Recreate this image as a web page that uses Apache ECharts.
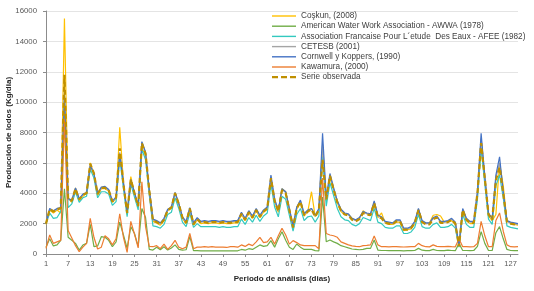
<!DOCTYPE html>
<html>
<head>
<meta charset="utf-8">
<script src="https://cdn.jsdelivr.net/npm/echarts/dist/echarts.min.js"></script>
<style>
html, body { margin: 0; padding: 0; background: #fff; }
#box1 { width: 534px; height: 291px; }
</style>
</head>
<body>
<div id="box1"></div>
<script>
var days = [];
for (var d = 1; d <= 129; d++) days.push(String(d));

var coskun = [1950,2900,2700,2900,2700,15500,3700,3400,4350,3500,
3800,4000,6000,5300,3850,4300,4300,4150,3400,3650,
8350,4700,2600,5100,4000,3100,7000,6500,4200,2150,
2050,1900,2200,2850,3000,4050,3300,2350,2000,3000,
1900,2250,2000,2050,2000,2050,2050,2000,2050,2000,
2000,2050,2050,2600,2200,2700,2350,2850,2400,2750,
2950,4900,3450,2750,4300,4100,2850,1700,2950,3400,
2500,2800,4100,2450,2850,6500,3500,5000,4200,3350,
2800,2600,2600,2350,2200,2350,2850,2650,2550,3300,
2400,2700,2050,1950,1950,2100,2100,1550,1600,1650,
2000,2850,2100,2000,2050,2550,2600,2500,2100,2150,
2200,1950,550,2800,2200,2000,2000,3800,7000,4900,
2500,2200,2600,6000,4500,2200,2000,1950,1900];

var awwa = [450,1000,530,600,900,4300,1100,900,700,260,
590,700,1950,480,530,1140,1100,900,480,790,
2100,1250,370,1800,1350,500,3000,2400,300,260,
440,280,480,260,400,600,300,260,280,1150,
220,220,200,200,210,200,200,210,200,200,
200,200,210,300,250,350,300,450,600,500,
550,880,450,1000,1470,900,450,300,660,450,
300,300,300,220,200,3750,810,920,800,700,
550,480,400,330,310,280,300,370,370,920,
260,230,230,220,220,230,220,210,220,220,
230,370,250,220,220,300,230,220,220,260,
230,220,700,230,230,220,230,500,1470,700,
230,230,1400,1800,1000,300,230,220,220];

var afee = [2000,2700,2350,2400,2800,9600,3050,3300,4100,3400,
3700,3800,5600,5000,3700,4100,4100,3950,3200,3450,
6300,4300,2450,4600,3750,2900,6900,6200,3900,1850,
1800,1700,1950,2600,2750,3700,3000,2100,1800,2700,
1750,2000,1800,1800,1800,1800,1800,1750,1800,1750,
1750,1800,1800,2300,1950,2400,2100,2550,2150,2500,
2700,4600,3100,2450,3800,3600,2550,1500,2600,3000,
2200,2450,2500,2100,2500,6400,3150,4700,3850,3000,
2450,2250,2200,1950,1850,2000,2400,2300,2200,3000,
2100,2000,1750,1700,1700,1850,1850,1350,1350,1450,
1750,2600,1800,1700,1700,1950,2050,1750,1750,1800,
1950,1700,450,2600,1950,1750,1750,3600,7000,4600,
2300,1950,4500,5200,3700,1850,1750,1700,1650];

var cetesb = [2000,2950,2800,2950,3000,10800,3600,3500,4300,3600,
3900,4000,5900,5300,3950,4350,4400,4200,3450,3700,
6700,4650,2700,4900,4000,3150,7350,6650,4200,2250,
2150,2000,2300,2900,3050,4000,3300,2400,2100,3000,
2000,2350,2100,2150,2100,2150,2150,2100,2150,2100,
2100,2150,2150,2700,2300,2800,2450,2950,2500,2850,
3050,5100,3550,2850,4250,4050,2950,1800,3050,3500,
2600,2850,3000,2500,2950,7200,3650,5200,4300,3450,
2900,2650,2600,2300,2200,2350,2750,2650,2600,3400,
2500,2400,2100,2050,2000,2200,2200,1650,1650,1750,
2100,2950,2150,2000,2000,2350,2450,2100,2100,2150,
2300,2050,550,2950,2300,2100,2100,4050,7600,5050,
2650,2300,5000,6000,4050,2150,2050,2000,1950];

var cornwell = [2000,3000,2850,3000,3050,10400,3650,3550,4350,3650,
3950,4050,5800,5300,4000,4400,4450,4250,3500,3750,
6600,4700,2750,4900,4050,3200,7400,6700,4250,2300,
2200,2050,2350,2950,3100,4050,3350,2450,2150,3050,
2050,2400,2150,2200,2150,2200,2200,2150,2200,2150,
2150,2200,2200,2750,2350,2850,2500,3000,2550,2900,
3100,5200,3600,2900,4300,4100,3000,1850,3100,3550,
2650,2900,3000,2550,3000,7950,3700,5300,4350,3500,
2950,2700,2650,2350,2250,2400,2800,2700,2650,3500,
2550,2450,2150,2100,2050,2250,2250,1700,1700,1800,
2150,3000,2200,2050,2050,2400,2500,2150,2150,2200,
2350,2100,600,3000,2350,2150,2150,4100,7950,5100,
2700,2350,5200,6400,4100,2200,2100,2050,2000];

var kawamura = [370,1250,700,800,900,8900,1550,1050,550,150,
450,700,2350,1100,330,450,1200,1000,600,1000,
2650,1100,100,2150,1300,400,4750,1800,500,480,
550,350,650,300,550,900,450,350,450,1350,
350,450,450,480,450,480,450,450,450,430,
480,480,450,600,500,650,550,800,1100,750,
800,1100,650,1200,1700,1250,650,880,750,600,
550,550,550,550,350,5000,1350,1250,1200,1100,
800,700,600,530,500,480,550,570,600,1180,
600,480,480,470,480,480,470,460,470,480,
480,700,550,480,470,600,500,480,480,500,
480,470,1000,480,480,470,480,700,2150,1200,
480,480,2200,2700,1500,600,480,470,480];

var observada = [2000,2950,2800,2950,3000,11800,3600,3500,4300,3600,
3900,4000,5950,5300,3950,4350,4350,4200,3450,3700,
6950,4600,2700,4900,4000,3150,7300,6600,4200,2200,
2100,1950,2250,2900,3050,4000,3300,2400,2050,3000,
1950,2300,2050,2100,2050,2100,2100,2050,2100,2050,
2050,2100,2100,2650,2250,2750,2400,2900,2450,2800,
3000,5000,3500,2800,4200,4000,2900,1750,3000,3450,
2550,2800,2950,2450,2900,6200,3600,5150,4250,3400,
2850,2600,2550,2250,2150,2300,2700,2600,2550,3350,
2450,2350,2050,2000,1950,2150,2150,1600,1600,1700,
2050,2900,2100,1950,1950,2300,2400,2050,2050,2100,
2250,2000,500,2900,2250,2050,2050,4000,7300,5000,
2600,2250,4850,5700,4000,2100,2000,1950,1900];

var names = ['Coşkun, (2008)',
    'American Water Work Association - AWWA (1978)',
    'Association Francaise Pour L´etude  Des Eaux - AFEE (1982)',
    'CETESB (2001)',
    'Cornwell y Koppers, (1990)',
    'Kawamura, (2000)',
    'Serie observada'];
var colors = ['#FFC000', '#70AD47', '#33C9BF', '#A5A5A5', '#4472C4', '#ED7D31', '#BF8F00'];
var values = [coskun, awwa, afee, cetesb, cornwell, kawamura, observada];

var font = 'Liberation Sans';
var solidIcon = 'path://M0,0h24v1.4h-24z';
var dashIcon = 'path://M0,0h6v2.2h-6z M9,0h6v2.2h-6z M18,0h6v2.2h-6z';

var myChart = echarts.init(document.getElementById('box1'));

var series = [];
var legendData = [];
for (var i = 0; i < names.length; i++) {
    var last = i == names.length - 1;
    series.push({
        name: names[i],
        type: 'line',
        data: values[i],
        symbol: 'none',
        lineStyle: {
            color: colors[i],
            width: last ? 2.2 : 1.2,
            type: last ? [5, 3] : 'solid'
        },
        itemStyle: { color: colors[i] }
    });
    legendData.push({ name: names[i], icon: last ? dashIcon : solidIcon, itemStyle: { color: colors[i] } });
}

var option = {
    animation: false,
    color: colors,
    textStyle: { fontFamily: font },
    grid: { left: 46, right: 16, top: 11, bottom: 37, containLabel: false, outerBoundsMode: 'none' },
    legend: {
        orient: 'vertical',
        left: 272,
        top: 12,
        padding: 0,
        itemWidth: 24,
        itemHeight: 8,
        itemGap: 2.2,
        data: legendData,
        textStyle: { fontFamily: font, fontSize: 8.2, color: '#404040', lineHeight: 8 }
    },
    xAxis: {
        type: 'category',
        data: days,
        boundaryGap: false,
        name: 'Periodo de análisis (dias)',
        nameLocation: 'middle',
        nameGap: 21,
        nameMoveOverlap: false,
        nameTextStyle: { fontFamily: font, fontSize: 8, fontWeight: 'bold', color: '#262626' },
        axisLine: { lineStyle: { color: '#8C8C8C', width: 1 } },
        axisTick: { interval: 5, length: 3, lineStyle: { color: '#8C8C8C' } },
        axisLabel: { interval: 5, margin: 6, fontFamily: font, fontSize: 7.5, color: '#595959' },
        splitLine: { show: false }
    },
    yAxis: {
        type: 'value',
        min: 0,
        max: 16000,
        interval: 2000,
        name: 'Producción de lodos (Kg/dia)',
        nameLocation: 'middle',
        nameGap: 33,
        nameMoveOverlap: false,
        nameTextStyle: { fontFamily: font, fontSize: 8, fontWeight: 'bold', color: '#262626' },
        axisLine: { show: true, lineStyle: { color: '#8C8C8C', width: 1 } },
        axisTick: { show: true, length: 3, lineStyle: { color: '#8C8C8C' } },
        axisLabel: {
            margin: 9, fontFamily: font, fontSize: 7.8, color: '#595959',
            formatter: function (v) { return String(v); }
        },
        splitLine: { lineStyle: { color: '#E4E4E4', width: 1 } }
    },
    series: series
};

myChart.setOption(option, true);
</script>
</body>
</html>
